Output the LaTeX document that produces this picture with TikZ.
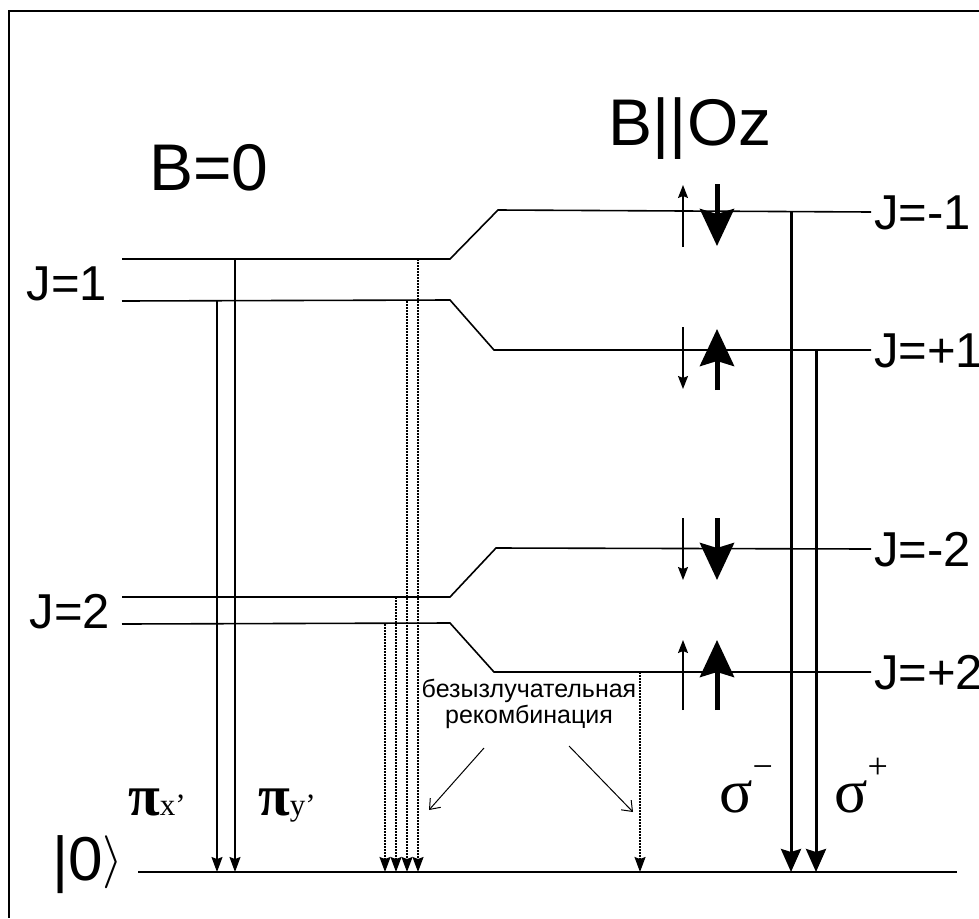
\documentclass[tikz,border=0pt]{standalone}
\usepackage{fontspec}
\usepackage{graphicx}
\setmainfont{Liberation Sans}
\newfontfamily\serifgr{Liberation Serif}
\usetikzlibrary{arrows.meta}
\begin{document}
\begin{tikzpicture}[x=1pt,y=-1pt,
  lvl/.style={line width=1.6pt},
  rad/.style={line width=1.3pt,-{Stealth[length=15pt,width=11pt,inset=2pt]}},
  nonrad/.style={line width=1.6pt,dash pattern=on 1.6pt off 1.4pt,-{Stealth[length=15pt,width=11pt,inset=2pt]}},
  sig/.style={line width=3pt,-{Stealth[length=23pt,width=20pt,inset=3pt]}},
  spinb/.style={line width=5pt,-{Stealth[length=37pt,width=34pt,inset=5pt]}},
  spins/.style={line width=1.5pt,-{Stealth[length=13pt,width=10pt,inset=2pt]}},
  ptr/.style={line width=1pt,-{Straight Barb[length=9pt,width=14pt]}},
  jlab/.style={font=\fontsize{49}{49}\selectfont, inner sep=0pt},
  big/.style={font=\fontsize{66}{66}\selectfont, inner sep=0pt},
]
\useasboundingbox (0,0) rectangle (979,918);
% frame
\coordinate (f1) at (979,11);
\coordinate (f2) at (9,11);
\coordinate (f3) at (9,918);
\draw[line width=2pt] (f1) -- (f2) -- (f3);

% levels
\coordinate (a1) at (122,259); \coordinate (a2) at (450,259); \coordinate (a3) at (498,210); \coordinate (a4) at (871,212);
\coordinate (b1) at (122,301); \coordinate (b2) at (450,300); \coordinate (b3) at (494,350); \coordinate (b4) at (871,350);
\coordinate (c1) at (122,597); \coordinate (c2) at (450,597); \coordinate (c3) at (496,548); \coordinate (c4) at (871,549);
\coordinate (d1) at (122,624); \coordinate (d2) at (450,623); \coordinate (d3) at (494,672); \coordinate (d4) at (871,672);
\coordinate (g1) at (138,872); \coordinate (g2) at (957,872);
\draw[lvl] (a1) -- (a2) -- (a3) -- (a4);
\draw[lvl] (b1) -- (b2) -- (b3) -- (b4);
\draw[lvl] (c1) -- (c2) -- (c3) -- (c4);
\draw[lvl] (d1) -- (d2) -- (d3) -- (d4);
\draw[lvl] (g1) -- (g2);

% labels
\node[big, anchor=base] (B0) at (209,190) {B=0};
\node[big, anchor=base] (BOz) at (690,145) {B||Oz};
\node[jlab, anchor=base] (J1) at (67,300) {J=1};
\node[jlab, anchor=base] (J2) at (70,628) {J=2};
\node[jlab, anchor=base west] (Jm1) at (874,229) {J=-1};
\node[jlab, anchor=base west] (Jp1) at (874,367) {J=+1};
\node[jlab, anchor=base west] (Jm2) at (874,566) {J=-2};
\node[jlab, anchor=base west] (Jp2) at (874,689) {J=+2};
\node[font=\fontsize{62}{62}\selectfont, inner sep=0pt, anchor=base west] (ket) at (52,880)
  {|0\raisebox{5pt}{\scalebox{5.3}{\fontsize{10}{10}\selectfont$\rangle$}}};

% radiative transitions B=0
\coordinate (px1) at (217,301); \coordinate (px2) at (217,872);
\coordinate (py1) at (235,259); \coordinate (py2) at (235,872);
\draw[rad] (px1) -- (px2);
\draw[rad] (py1) -- (py2);
\node[inner sep=0pt, anchor=base west] (pix) at (128,815)
  {\serifgr\fontsize{58}{58}\selectfont\bfseries π\fontsize{31}{31}\selectfont\mdseries x’};
\node[inner sep=0pt, anchor=base west] (piy) at (258,815)
  {\serifgr\fontsize{58}{58}\selectfont\bfseries π\fontsize{31}{31}\selectfont\mdseries y’};

% non-radiative
\coordinate (n11) at (385,624); \coordinate (n12) at (385,872);
\coordinate (n21) at (396,597); \coordinate (n22) at (396,872);
\coordinate (n31) at (407,301); \coordinate (n32) at (407,872);
\coordinate (n41) at (418,259); \coordinate (n42) at (418,872);
\coordinate (n51) at (640,672); \coordinate (n52) at (640,872);
\draw[nonrad] (n11) -- (n12);
\draw[nonrad] (n21) -- (n22);
\draw[nonrad] (n31) -- (n32);
\draw[nonrad] (n41) -- (n42);
\draw[nonrad] (n51) -- (n52);
\node[align=center, font=\fontsize{25}{26}\selectfont, inner sep=0pt] (nr) at (529,704)
  {безызлучательная\\рекомбинация};
\coordinate (pl1) at (484,748); \coordinate (pl2) at (429,810);
\coordinate (pr1) at (569,746); \coordinate (pr2) at (633,812);
\draw[ptr] (pl1) -- (pl2);
\draw[ptr] (pr1) -- (pr2);

% sigma transitions
\coordinate (sm1) at (791,212); \coordinate (sm2) at (791,872);
\coordinate (sp1) at (816,350); \coordinate (sp2) at (816,872);
\draw[sig] (sm1) -- (sm2);
\draw[sig] (sp1) -- (sp2);
\node[inner sep=0pt, anchor=base west] (sigm) at (719,812)
  {\serifgr\fontsize{62}{62}\selectfont σ\raisebox{34pt}{\fontsize{36}{36}\selectfont −}};
\node[inner sep=0pt, anchor=base west] (sigp) at (834,812)
  {\serifgr\fontsize{62}{62}\selectfont σ\raisebox{34pt}{\fontsize{36}{36}\selectfont +}};

% spin arrows
\coordinate (s1a) at (683,247); \coordinate (s1b) at (683,185);
\coordinate (t1a) at (717,184); \coordinate (t1b) at (717,246);
\draw[spins] (s1a) -- (s1b);
\draw[spinb] (t1a) -- (t1b);
\coordinate (s2a) at (683,327); \coordinate (s2b) at (683,389);
\coordinate (t2a) at (717,390); \coordinate (t2b) at (717,329);
\draw[spins] (s2a) -- (s2b);
\draw[spinb] (t2a) -- (t2b);
\coordinate (s3a) at (683,518); \coordinate (s3b) at (683,580);
\coordinate (t3a) at (717,518); \coordinate (t3b) at (717,580);
\draw[spins] (s3a) -- (s3b);
\draw[spinb] (t3a) -- (t3b);
\coordinate (s4a) at (683,710); \coordinate (s4b) at (683,640);
\coordinate (t4a) at (717,710); \coordinate (t4b) at (717,640);
\draw[spins] (s4a) -- (s4b);
\draw[spinb] (t4a) -- (t4b);
\end{tikzpicture}
\end{document}
